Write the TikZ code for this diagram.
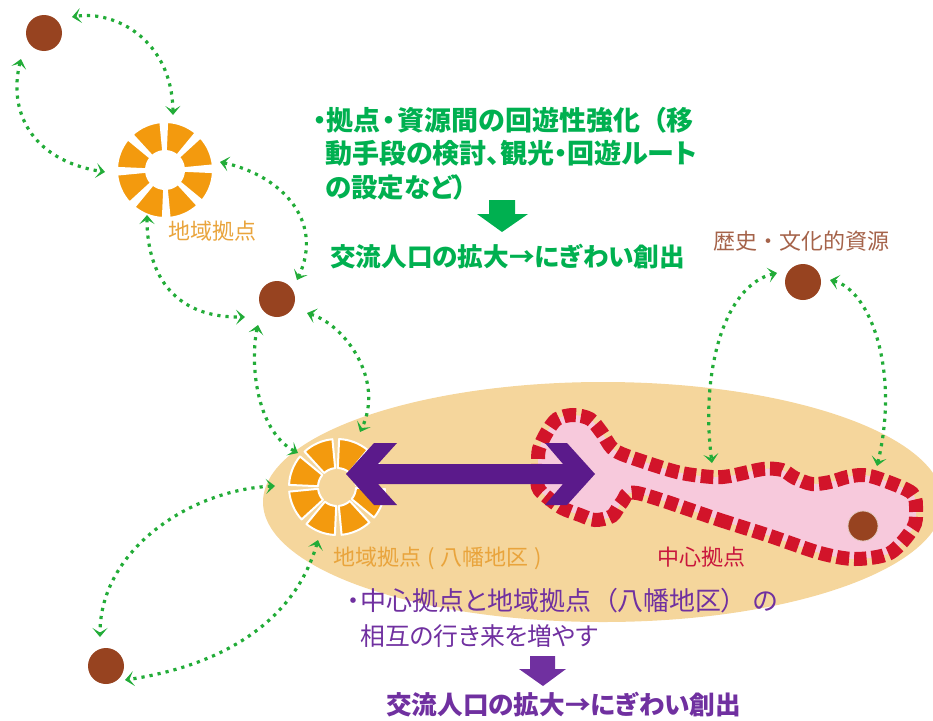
\documentclass[tikz,border=0pt]{standalone}
\usepackage{fontspec}
\setmainfont{Noto Sans CJK JP}[RawFeature=+palt]
\newfontfamily\jpfull{Noto Sans CJK JP}
\usetikzlibrary{arrows.meta}
\definecolor{dotgreen}{HTML}{22AC38}
\definecolor{txtgreen}{HTML}{00B050}
\definecolor{txtpurple}{HTML}{7030A0}
\definecolor{deeppurple}{HTML}{5B1A8B}
\definecolor{wedgeorange}{HTML}{F39A0E}
\definecolor{lblorange}{HTML}{E9A43C}
\definecolor{lblbrown}{HTML}{A5634A}
\definecolor{lblred}{HTML}{C9163C}
\definecolor{resbrown}{HTML}{974320}
\definecolor{beige}{HTML}{F5D69C}
\definecolor{pinkfill}{HTML}{F7C9DC}
\definecolor{dashred}{HTML}{D2142A}
\tikzset{
  resource/.style={circle,fill=resbrown,minimum size=36pt,inner sep=0pt,outer sep=0pt},
  wheelhub/.style={circle,minimum size=94pt,inner sep=0pt,outer sep=0pt},
  wedge/.style={fill=wedgeorange,draw=white,line width=2pt,line join=round},
  route/.style={draw=dotgreen,line width=3.2pt,dash pattern=on 3.2pt off 5pt,
    {Stealth[length=9pt,width=15pt,inset=4.5pt]}-{Stealth[length=9pt,width=15pt,inset=4.5pt]}},
  headg/.style={anchor=west,inner sep=0pt,text=txtgreen,font=\fontsize{27}{27}\selectfont\bfseries},
  headgs/.style={anchor=west,inner sep=0pt,text=txtgreen,font=\fontsize{26.5}{26.5}\selectfont\bfseries},
  headgb/.style={anchor=west,inner sep=0pt,text=txtgreen,font=\fontsize{25.6}{25.6}\selectfont\bfseries},
  headp/.style={anchor=west,inner sep=0pt,text=txtpurple,font=\fontsize{26}{26}\selectfont},
  headps/.style={anchor=west,inner sep=0pt,text=txtpurple,font=\fontsize{24.8}{24.8}\selectfont},
  headpb/.style={anchor=west,inner sep=0pt,text=txtpurple,font=\fontsize{25.6}{25.6}\selectfont\bfseries},
  lbl/.style={anchor=west,inner sep=0pt,font=\jpfull\fontsize{22}{22}\selectfont},
}
\newcommand{\wheelring}{%
  \foreach \a in {69,24,-21,-66,-111,-156,-201,-246}{
    \path[wedge] ({-\a+18.5}:48) arc[start angle={-\a+18.5},end angle={-\a-18.5},radius=48]
      -- ({-\a-18.5}:19) arc[start angle={-\a-18.5},end angle={-\a+18.5},radius=19] -- cycle;
  }}
\begin{document}
\begin{tikzpicture}[x=1pt,y=-1pt]
\useasboundingbox (0,0) rectangle (933,720);
\clip (0,0) rectangle (933,720);
% district ellipse
\fill[beige] (603,502) ellipse [x radius=340,y radius=120];
% central corridor
\path[fill=pinkfill,draw=dashred,line width=14pt,dash pattern=on 12.5pt off 5pt]
  plot[smooth cycle,tension=.5] coordinates {
  (637,493) (720,520) (770,536) (820,553) (855,559) (890,553) (913,528) (916,511)
  (912,493) (880,479) (863,475) (847,477) (830,482) (812,484) (795,478) (782,470) (763,469)
  (730,476) (712,477) (677,472) (627,456) (612,448) (602,433) (590,419) (573,415)
  (557,419) (547,432) (539,449) (538,465) (538,487) (547,497) (562,508) (580,515)
  (595,520) (612,516) (622,502)};
% resources
\node[resource] (n1) at (44,33) {};
\node[resource] (n2) at (277,299) {};
\node[resource] (n3) at (803,282) {};
\node[resource] (n4) at (106,666) {};
\node[resource,minimum size=30pt,draw=white!70!resbrown,line width=.8pt] (n5) at (863,526) {};
% wheels
\node[wheelhub] (w1) at (165,170) {};
\node[wheelhub] (w2) at (337,487) {};
\begin{scope}[shift={(165,170)}]\wheelring\end{scope}
\begin{scope}[shift={(337,487)}]\wheelring\end{scope}
% routes
\draw[route] ([shift={(8,-55)}]w1.center) .. controls (172,40) and (115,10) .. ([shift={(28,-16)}]n1.center);
\draw[route] ([shift={(-23,26)}]n1.center) .. controls (8,110) and (30,160) .. ([shift={(-60,2)}]w1.center);
\draw[route] ([shift={(55,-8)}]w1.center) .. controls (280,175) and (325,220) .. ([shift={(20,-19)}]n2.center);
\draw[route] ([shift={(-18,45)}]w1.center) .. controls (147,240) and (150,318) .. ([shift={(-32,18)}]n2.center);
\draw[route] ([shift={(-19,26)}]n2.center) .. controls (250,360) and (255,430) .. ([shift={(-39,-34)}]w2.center);
\draw[route] ([shift={(30,14)}]n2.center) .. controls (345,325) and (385,380) .. ([shift={(23,-55)}]w2.center);
\draw[route] ([shift={(-62,-1)}]w2.center) .. controls (190,490) and (100,550) .. ([shift={(-6,-29)}]n4.center);
\draw[route] ([shift={(-19,53)}]w2.center) .. controls (295,620) and (225,665) .. ([shift={(19,14)}]n4.center);
\draw[route] ([shift={(-26,-9)}]n3.center) .. controls (725,285) and (700,370) .. (712,463);
\draw[route] ([shift={(27,-2)}]n3.center) .. controls (870,290) and (900,370) .. (877,466);
% double arrow
\fill[deeppurple] (346,474) -- (374,443) -- (397,443) -- (378,464) -- (563,464) -- (545,443)
  -- (567,443) -- (595,474) -- (567,505) -- (545,505) -- (563,484) -- (378,484) -- (397,505) -- (374,505) -- cycle;
% block arrows
\fill[txtgreen] (489,200) -- (515,200) -- (515,214) -- (528,214) -- (502,232) -- (477,214) -- (489,214) -- cycle;
\fill[txtpurple] (530,656) -- (555,656) -- (555,669) -- (566,669) -- (543,686) -- (519,669) -- (530,669) -- cycle;
% labels
\node[lbl,text=lblorange] (l1) at (168,231) {地域拠点};
\node[lbl,text=lblorange] (l2) at (333,558) {地域拠点\hspace{1pt} ( \hspace{1pt}八幡地区\hspace{1pt} )};
\node[lbl,text=lblred] (l3) at (657,557) {中心拠点};
\node[lbl,text=lblbrown] (l4) at (713,241) {歴史・文化的資源};
% text
\node[headg] (g1) at (313,120) {・拠点\hspace{1.5pt}・\hspace{1.5pt}資源間の\hspace{1pt}回遊性強化\hspace{12pt}（移};
\node[headg] (g2) at (325,153) {動手段の検討、観光・回遊ルート};
\node[headgs] (g3) at (325,187) {の設定など）};
\node[headgb] (g4) at (330,257) {交流人口の拡大→にぎわい創出};
\node[headp] (p1) at (347,601) {・中心拠点と地域拠点\hspace{13pt}（八幡地区）\hspace{19pt}の};
\node[headps] (p2) at (360,636) {相互の行き来を増やす};
\node[headpb] (p3) at (386,705) {交流人口の拡大→にぎわい創出};
\end{tikzpicture}
\end{document}
